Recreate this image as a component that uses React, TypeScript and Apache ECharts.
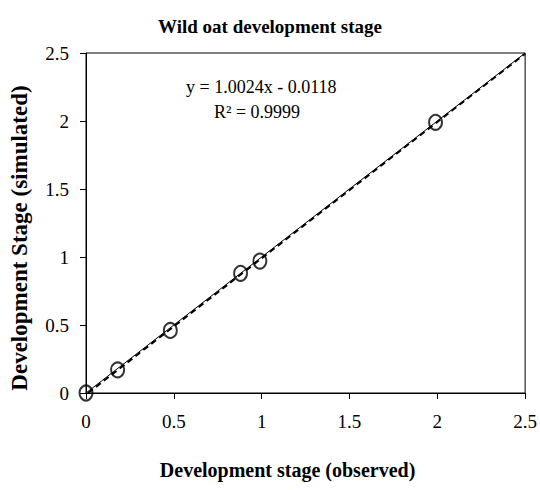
import React, { useEffect, useRef } from "react";
import * as echarts from "echarts";

// Observed vs simulated development stage
const observed = [0, 0.18, 0.48, 0.88, 0.99, 1.99];
const simulated = [0, 0.17, 0.46, 0.88, 0.97, 1.99];

const axisTicks = [0, 0.5, 1, 1.5, 2, 2.5];
const oneToOneLine = [
  [0, 0],
  [2.5, 2.5],
];
const trendSlope = 1.0024;
const trendIntercept = -0.0118;
const trendX = [0.0118, 2.5];

const chartTitle = "Wild oat development stage";
const xTitle = "Development stage (observed)";
const yTitle = "Development Stage (simulated)";
const equationText = "y = 1.0024x - 0.0118";
const r2Text = "R² = 0.9999";

const FONT = "'Liberation Serif', 'Times New Roman', serif";

export default function App() {
  const ref = useRef<HTMLDivElement>(null);

  useEffect(() => {
    if (!ref.current) return;
    const chart = echarts.init(ref.current, undefined, { renderer: "svg" });
    const scatterData = observed.map((x, i) => [x, simulated[i]]);
    const trendData = trendX.map((x) => [x, trendSlope * x + trendIntercept]);

    chart.setOption({
      animation: false,
      backgroundColor: "#ffffff",
      title: {
        text: chartTitle,
        left: "center",
        top: 12,
        textStyle: {
          fontFamily: FONT,
          fontSize: 19,
          fontWeight: "bold",
          color: "#000",
        },
      },
      grid: {
        left: 80,
        right: 12,
        top: 53,
        bottom: 97,
        show: true,
        borderColor: "#000",
        borderWidth: 1,
        backgroundColor: "transparent",
      },
      xAxis: {
        type: "value",
        min: axisTicks[0],
        max: axisTicks[axisTicks.length - 1],
        interval: 0.5,
        name: xTitle,
        nameLocation: "middle",
        nameGap: 67,
        nameTextStyle: {
          fontFamily: FONT,
          fontSize: 20,
          fontWeight: "bold",
          color: "#000",
          padding: [0, 36, 0, 0],
        },
        axisLine: { show: true, lineStyle: { color: "#000", width: 1 } },
        axisTick: { show: true, inside: false, length: 6, lineStyle: { color: "#000" } },
        axisLabel: {
          margin: 19,
          fontFamily: FONT,
          fontSize: 19,
          color: "#000",
        },
        splitLine: { show: false },
      },
      yAxis: {
        type: "value",
        min: axisTicks[0],
        max: axisTicks[axisTicks.length - 1],
        interval: 0.5,
        name: yTitle,
        nameLocation: "middle",
        nameGap: 55,
        nameRotate: 90,
        nameTextStyle: {
          fontFamily: FONT,
          fontSize: 23,
          fontWeight: "bold",
          color: "#000",
          padding: [0, 30, 0, 0],
        },
        axisLine: { show: true, lineStyle: { color: "#000", width: 1 } },
        axisTick: { show: true, inside: false, length: 6, lineStyle: { color: "#000" } },
        axisLabel: {
          margin: 17,
          fontFamily: FONT,
          fontSize: 19,
          color: "#000",
        },
        splitLine: { show: false },
      },
      graphic: [
        {
          type: "text",
          left: 186,
          top: 78,
          style: {
            text: equationText,
            fontFamily: FONT,
            fontSize: 18,
            fill: "#000",
          },
        },
        {
          type: "text",
          left: 214,
          top: 103,
          style: {
            text: r2Text,
            fontFamily: FONT,
            fontSize: 18,
            fill: "#000",
          },
        },
      ],
      series: [
        {
          type: "line",
          data: oneToOneLine,
          showSymbol: false,
          symbol: "none",
          lineStyle: { color: "#000", width: 1, type: "solid" },
          z: 2,
        },
        {
          type: "line",
          data: trendData,
          showSymbol: false,
          symbol: "none",
          lineStyle: { color: "#000", width: 2, type: [6, 4] },
          z: 3,
        },
        {
          type: "scatter",
          data: scatterData,
          symbol: "circle",
          symbolSize: [13, 15],
          itemStyle: {
            color: "rgba(0,0,0,0)",
            borderColor: "#000",
            borderWidth: 2,
          },
          z: 4,
        },
      ],
    });

    return () => {
      chart.dispose();
    };
  }, []);

  return (
    <div
      ref={ref}
      style={{
        position: "fixed",
        left: 0,
        top: 0,
        width: 540,
        height: 490,
        background: "#fff",
      }}
    />
  );
}
